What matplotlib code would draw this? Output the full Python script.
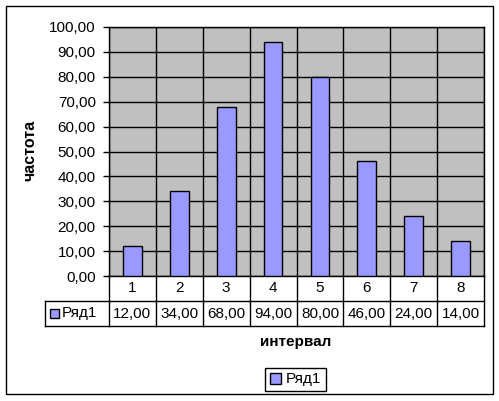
import matplotlib
matplotlib.use("Agg")
import matplotlib.pyplot as plt
from matplotlib.patches import Rectangle, Patch
from matplotlib.lines import Line2D
from matplotlib.transforms import blended_transform_factory
from matplotlib.ticker import MultipleLocator, FixedLocator

plt.rcParams['font.family'] = ['Liberation Sans', 'DejaVu Sans']

# data
intervals = [1, 2, 3, 4, 5, 6, 7, 8]
freq = [12, 34, 68, 94, 80, 46, 24, 14]
series_name = "Ряд1"
bar_color = "#9999FF"

W, H = 499, 401
fig = plt.figure(figsize=(W / 100, H / 100), dpi=100)

def fx(px):
    return px / W

def fy(py):
    return 1 - py / H

fs = 11

# plot area
ax = fig.add_axes([fx(109), fy(276), fx(484) - fx(109), fy(27) - fy(276)])
ax.set_facecolor("#C0C0C0")
ax.bar(intervals, freq, width=0.4, color=bar_color, edgecolor="black", linewidth=1, zorder=3)

ax.set_xlim(0.5, 8.5)
ax.set_ylim(0, 100)
ax.yaxis.set_major_locator(MultipleLocator(10))
ax.set_yticklabels([f"{v:.2f}".replace(".", ",") for v in ax.get_yticks()])
ax.xaxis.set_major_locator(FixedLocator([i + 0.5 for i in range(0, 9)]))
ax.set_xticklabels([])
ax.tick_params(axis="x", length=0)
ax.tick_params(axis="y", length=4.5, width=1, labelsize=fs, pad=5, direction="out")
ax.grid(True, color="black", linewidth=1, zorder=1)
ax.set_axisbelow(True)
for s in ax.spines.values():
    s.set_color("black")
    s.set_linewidth(1)

fig.text(fx(30), fy(150), "частота", rotation=90, ha="center", va="center",
         fontsize=11.5, fontweight="bold")

# data table under the plot
tr = blended_transform_factory(ax.transData, fig.transFigure)
y0, y1, y2 = fy(276), fy(301), fy(326)
for i in range(9):
    xb = 0.5 + i
    ax.add_line(Line2D([xb, xb], [y0, y2], color="black", lw=1, transform=tr, clip_on=False))
ax.add_line(Line2D([0.5, 8.5], [y1, y1], color="black", lw=1, transform=tr, clip_on=False))
ax.add_line(Line2D([0.5, 8.5], [y2, y2], color="black", lw=1, transform=tr, clip_on=False))
for x, v in zip(intervals, freq):
    ax.text(x, (y0 + y1) / 2, str(x), transform=tr, ha="center", va="center", fontsize=fs)
    ax.text(x, (y1 + y2) / 2, f"{v:.2f}".replace(".", ","), transform=tr,
            ha="center", va="center", fontsize=fs)

# legend key cell on the left of the table
fig.add_artist(Line2D([fx(45), fx(109)], [y1, y1], color="black", lw=1))
fig.add_artist(Line2D([fx(45), fx(109)], [y2, y2], color="black", lw=1))
fig.add_artist(Line2D([fx(45), fx(45)], [y1, y2], color="black", lw=1))
fig.add_artist(Rectangle((fx(50), fy(318)), fx(9), fy(309) - fy(318), facecolor=bar_color,
                         edgecolor="black", lw=1))
fig.text(fx(62), (y1 + y2) / 2, series_name, ha="left", va="center", fontsize=fs)

fig.text(fx(296), fy(342), "интервал", ha="center", va="center", fontsize=fs,
         fontweight="bold")

# legend
leg = fig.legend(handles=[Patch(facecolor=bar_color, edgecolor="black", label=series_name)],
                 loc="center", bbox_to_anchor=(fx(295.5), fy(379.5)), fontsize=fs,
                 fancybox=False, framealpha=1, edgecolor="black", handlelength=0.75,
                 handleheight=0.75, handletextpad=0.3, borderpad=0.3, borderaxespad=0)
leg.get_frame().set_linewidth(1)

# outer chart border
fig.add_artist(Rectangle((fx(6), fy(394)), fx(493) - fx(6), fy(6) - fy(394), fill=False,
                         edgecolor="black", lw=1))

fig.savefig("out.png", dpi=100)
